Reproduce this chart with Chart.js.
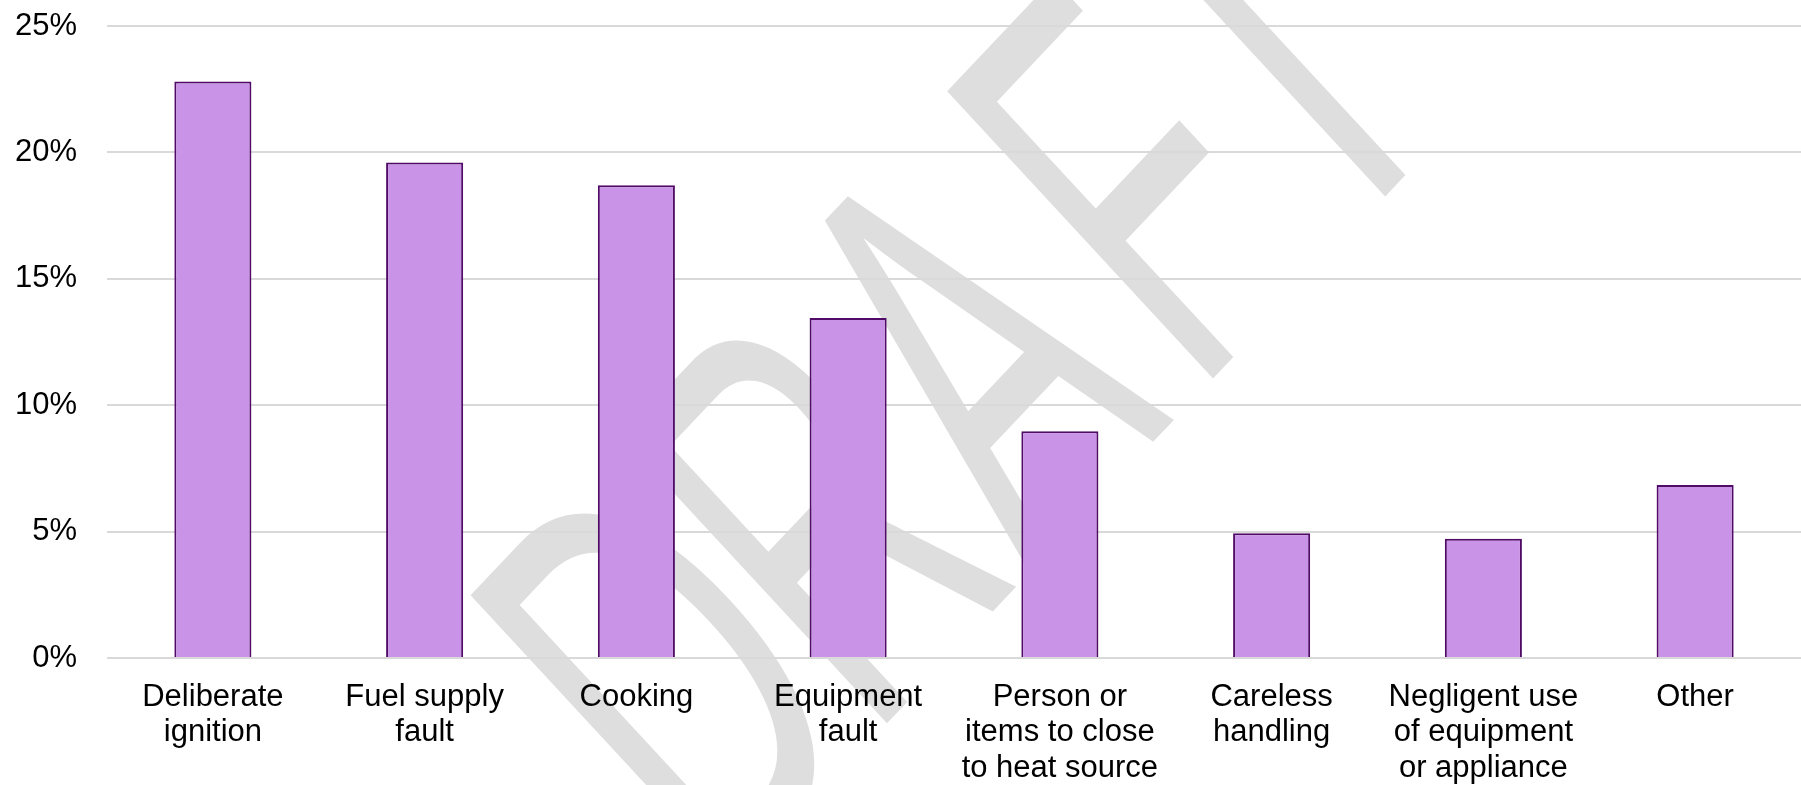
<!DOCTYPE html>
<html>
<head>
<meta charset="utf-8">
<script src="https://cdn.jsdelivr.net/npm/chart.js@4/dist/chart.umd.min.js"></script>
<style>
  html, body { margin: 0; padding: 0; background: #fff; }
  #wrap { width: 1801px; height: 785px; position: relative; }
</style>
</head>
<body>
<div id="wrap"><canvas id="myChart"></canvas></div>
<script>
'use strict'

var categories = [
    ['Deliberate', 'ignition'],
    ['Fuel supply', 'fault'],
    'Cooking',
    ['Equipment', 'fault'],
    ['Person or', 'items to close', 'to heat source'],
    ['Careless', 'handling'],
    ['Negligent use', 'of equipment', 'or appliance'],
    'Other'
];
var shares = [22.8, 19.6, 18.7, 13.45, 8.97, 4.93, 4.72, 6.84];
var yTicks = [0, 5, 10, 15, 20, 25];

/* grey DRAFT watermark behind the plot, rotated and squeezed like the original.
   letters are set one by one so the spacing can be nudged a little */
var watermark = {
    id: 'watermark',
    beforeDraw: function(chart) {
        var c = chart.ctx;
        var word = 'DRAFT';
        var nudge = [-40, -55, -48, 0, 2];
        c.save();
        c.setTransform(0.435, -0.46, 0.773, 0.835, 736, 883);
        c.font = '500px "Liberation Sans", Arial, sans-serif';
        c.fillStyle = '#dedede';
        c.textAlign = 'left';
        c.textBaseline = 'alphabetic';
        var x = 0;
        for (var i = 0; i < word.length; i++) {
            c.fillText(word[i], x + nudge[i], 0);
            x += c.measureText(word[i]).width;
        }
        c.restore();
    }
};

var ctx = document.getElementById('myChart').getContext('2d');

var graphData = {
    type: 'bar',
    data: {
        labels: categories,
        datasets: [{
            data: shares,
            backgroundColor: '#c994e8',
            borderColor: '#500b66',
            borderWidth: 2,
            categoryPercentage: 1,
            barPercentage: 0.364
        }]
    },
    options: {
        responsive: true,
        maintainAspectRatio: false,
        animation: false,
        layout: { padding: { left: 14, right: 0, top: 26, bottom: 0 } },
        plugins: {
            legend: { display: false },
            tooltip: { enabled: false }
        },
        scales: {
            x: {
                grid: { display: false, drawTicks: false },
                border: { display: false },
                afterFit: function(axis) {
                    axis.paddingLeft = 0;
                    axis.paddingRight = 0;
                    axis.height = 127;
                },
                ticks: {
                    color: '#000',
                    padding: 21,
                    maxRotation: 0,
                    autoSkip: false,
                    font: { family: '"Liberation Sans", Arial, sans-serif', size: 31, lineHeight: 1.16 }
                }
            },
            y: {
                min: 0,
                max: 25,
                afterBuildTicks: function(axis) {
                    axis.ticks = yTicks.map(function(v) { return { value: v }; });
                },
                afterFit: function(axis) {
                    axis.width = 93;
                    axis.paddingTop = 0;
                    axis.paddingBottom = 0;
                },
                grid: { color: '#d9d9d9', lineWidth: 2, drawTicks: false },
                border: { display: false },
                ticks: {
                    color: '#000',
                    padding: 30,
                    font: { family: '"Liberation Sans", Arial, sans-serif', size: 31 },
                    callback: function(v) { return v + '%'; }
                }
            }
        }
    },
    plugins: [watermark]
};

var myChart = new Chart(ctx, graphData);
</script>
</body>
</html>
